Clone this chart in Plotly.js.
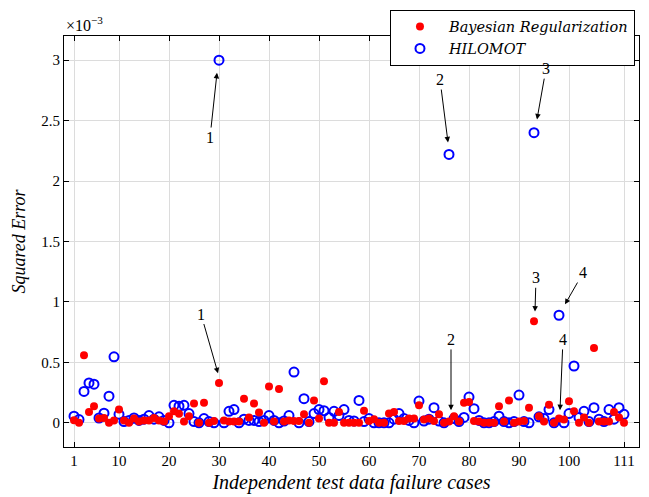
<!DOCTYPE html>
<html>
<head>
<meta charset="utf-8">
<script src="https://cdn.plot.ly/plotly-3.0.1.min.js"></script>
<style>html,body{margin:0;padding:0;background:#fff;}#chart{width:649px;height:497px;}</style>
</head>
<body>
<div id="chart"></div>
<script>
// Values in units of 1e-3
const caseIndex = Array.from({length: 111}, (_, i) => i + 1);
const bayesianReg = [
  0.022, 0.0, 0.56, 0.09, 0.137, 0.035, 0.04, 0.0, 0.02, 0.11,
  0.02, 0.0, 0.035, 0.01, 0.02, 0.02, 0.04, 0.02, 0.01, 0.055,
  0.095, 0.075, 0.01, 0.055, 0.16, 0.0, 0.167, 0.0, 0.015, 0.33,
  0.02, 0.01, 0.01, 0.01, 0.2, 0.045, 0.16, 0.085, 0.0, 0.3,
  0.01, 0.28, 0.01, 0.02, 0.015, 0.015, 0.07, 0.0, 0.185, 0.035,
  0.344, 0.0, 0.0, 0.09, 0.0, 0.0, 0.0, 0.0, 0.1, 0.015,
  0.03, 0.0, 0.0, 0.077, 0.09, 0.015, 0.015, 0.035, 0.035, 0.145,
  0.027, 0.035, 0.015, 0.07, 0.0, 0.01, 0.055, 0.01, 0.167, 0.172,
  0.015, 0.01, 0.0, 0.0, 0.0, 0.137, 0.01, 0.185, 0.0, 0.01,
  0.015, 0.125, 0.84, 0.055, 0.01, 0.15, 0.0, 0.035, 0.027, 0.178,
  0.095, 0.0, 0.045, 0.0, 0.62, 0.01, 0.01, 0.01, 0.09, 0.045,
  0.0
];
const hilomot = [
  0.055, 0.027, 0.26, 0.33, 0.32, 0.04, 0.08, 0.22, 0.546, 0.07,
  0.01, 0.02, 0.04, 0.02, 0.03, 0.06, 0.03, 0.05, 0.02, 0.0,
  0.145, 0.137, 0.145, 0.077, 0.01, 0.0, 0.035, 0.01, 0.0, 3.0,
  0.0, 0.095, 0.11, 0.0, 0.03, 0.02, 0.02, 0.01, 0.02, 0.06,
  0.02, 0.0, 0.015, 0.06, 0.42, 0.0, 0.2, 0.01, 0.077, 0.11,
  0.1, 0.045, 0.095, 0.06, 0.11, 0.02, 0.015, 0.185, 0.01, 0.035,
  0.0, 0.0, 0.0, 0.0, 0.03, 0.077, 0.035, 0.02, 0.0, 0.18,
  0.015, 0.03, 0.125, 0.015, 0.0, 2.22, 0.035, 0.01, 0.045, 0.213,
  0.117, 0.02, 0.0, 0.0, 0.01, 0.055, 0.01, 0.0, 0.01, 0.23,
  0.01, 0.0, 2.4, 0.05, 0.035, 0.11, 0.0, 0.89, 0.0, 0.077,
  0.47, 0.045, 0.095, 0.01, 0.125, 0.03, 0.01, 0.11, 0.03, 0.125,
  0.07
];
const xTickVals = [1, 10, 20, 30, 40, 50, 60, 70, 80, 90, 100, 111];
const yTickVals = [0, 0.5, 1, 1.5, 2, 2.5, 3];
const yTickText = ['0', '0.5', '1', '1.5', '2', '2.5', '3'];
// annotation callouts: label, arrow tip (x,y), text position (x,y)
const calloutLabels = ['1', '2', '3', '4', '1', '2', '3', '4'];
const calloutTipX = [29.6, 75.8, 93.6, 99.2, 29.8, 76.4, 93.2, 98.2];
const calloutTipY = [2.895, 2.32, 2.51, 0.98, 0.41, 0.105, 0.92, 0.105];
const calloutTextX = [28.2, 74.2, 95.4, 102.8, 26.4, 76.4, 93.4, 98.8];
const calloutTextY = [2.36, 2.84, 2.93, 1.24, 0.90, 0.69, 1.20, 0.69];

const serif = 'Liberation Serif, DejaVu Serif, serif';

const traces = [
  {
    x: caseIndex, y: hilomot, name: '<i>HILOMOT</i>', type: 'scatter', mode: 'markers',
    marker: {symbol: 'circle-open', size: 9, color: '#0000ff', line: {width: 2, color: '#0000ff'}},
    legendrank: 2
  },
  {
    x: caseIndex, y: bayesianReg, name: '<i>Bayesian Regularization</i>', type: 'scatter', mode: 'markers',
    marker: {symbol: 'circle', size: 8, color: '#ff0000'},
    legendrank: 1
  }
];

const annotations = calloutLabels.map((t, i) => ({
  x: calloutTipX[i], y: calloutTipY[i], xref: 'x', yref: 'y',
  ax: calloutTextX[i], ay: calloutTextY[i], axref: 'x', ayref: 'y',
  text: t, showarrow: true, arrowhead: 2, arrowsize: 1.1, arrowwidth: 1, arrowcolor: '#000',
  font: {family: serif, size: 16, color: '#000'}
}));
annotations.push({
  x: 0, y: 1, xref: 'paper', yref: 'paper', xanchor: 'left', yanchor: 'bottom',
  text: '×10<sup>−3</sup>', showarrow: false, font: {family: serif, size: 16, color: '#000'}, yshift: 0
});

const axisCommon = {
  showline: true, linecolor: '#000', linewidth: 1, mirror: 'ticks',
  ticks: 'inside', ticklen: 5, tickcolor: '#000', tickwidth: 1,
  showgrid: true, gridcolor: '#dcdcdc', gridwidth: 1, zeroline: false,
  tickfont: {family: serif, size: 15, color: '#000'}
};

const layout = {
  width: 649, height: 497,
  margin: {l: 64, r: 10, t: 29, b: 50},
  paper_bgcolor: '#fff', plot_bgcolor: '#fff',
  showlegend: true,
  legend: {
    x: 0.993, y: 1.064, xanchor: 'right', yanchor: 'top',
    bgcolor: '#fff', bordercolor: '#000', borderwidth: 1,
    font: {family: 'DejaVu Serif, serif', size: 14.5, color: '#000'},
    tracegroupgap: 0, itemwidth: 48
  },
  xaxis: Object.assign({}, axisCommon, {
    range: [-1, 114], tickmode: 'array', tickvals: xTickVals,
    title: {text: '<i>Independent test data failure cases</i>', font: {family: serif, size: 20, color: '#000'}, standoff: 6}
  }),
  yaxis: Object.assign({}, axisCommon, {
    range: [-0.2, 3.2], tickmode: 'array', tickvals: yTickVals, ticktext: yTickText,
    title: {text: '<i>Squared Error</i>', font: {family: serif, size: 18, color: '#000'}, standoff: 10}
  }),
  annotations: annotations
};

Plotly.newPlot('chart', traces, layout, {displayModeBar: false, staticPlot: true});
</script>
</body>
</html>
